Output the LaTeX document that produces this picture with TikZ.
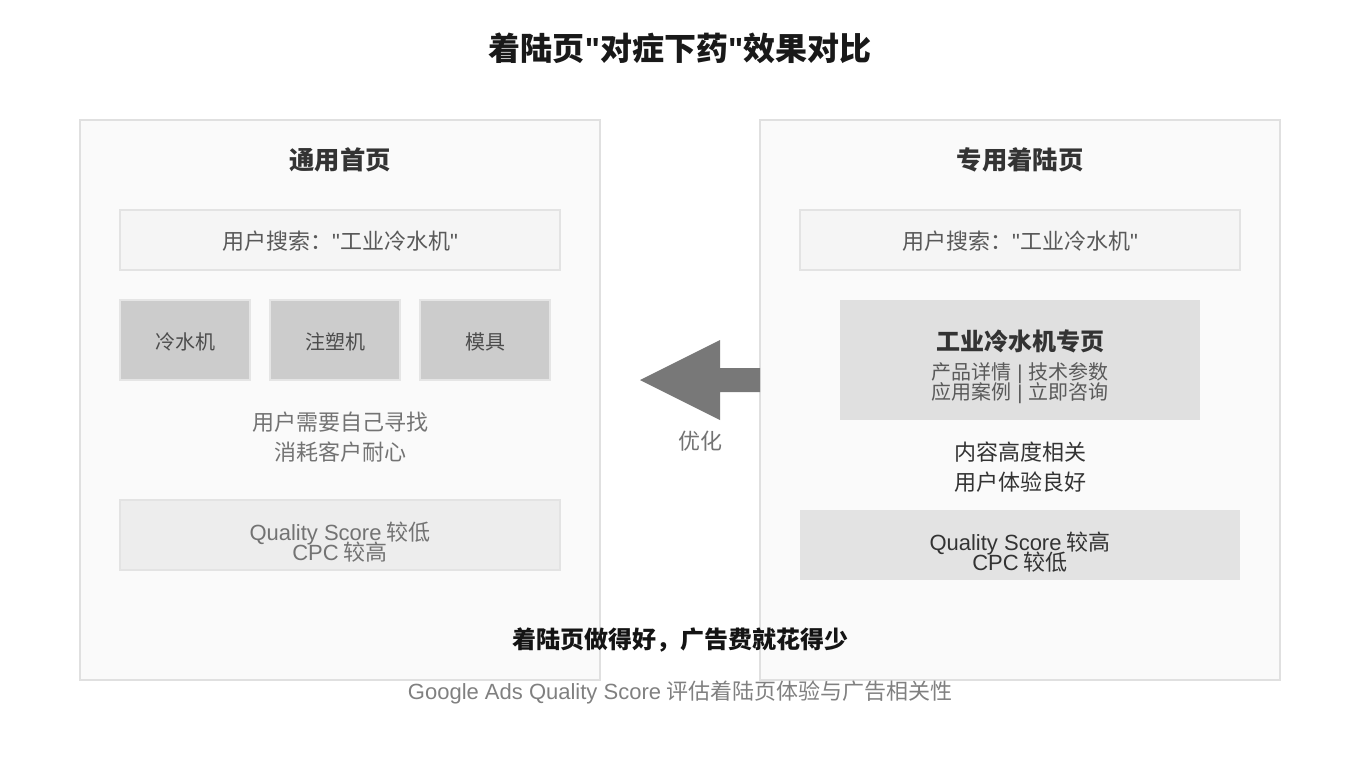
\documentclass[tikz,border=0pt]{standalone}
\usepackage{fontspec}
\setmainfont{Noto Sans CJK SC}[Ligatures=TeXOff]
\newfontfamily\lat{Liberation Sans}[Ligatures=TeXOff]
\newcommand\nols{\setlength{\lineskiplimit}{-1000pt}}
\newcommand\qq{{\lat\symbol{34}}}
\newcommand\sep{\hspace{4.5pt}{\lat|}\hspace{4.5pt}}
\begin{document}
\begin{tikzpicture}[x=0.75pt,y=-0.75pt,
  panel/.style={draw=black!12,line width=1.2pt,fill=black!2},
  searchbox/.style={draw=black!11,line width=1.5pt,fill=black!4},
  catbox/.style={draw=black!10,line width=1.5pt,fill=black!20},
  txt/.style={font=\fontsize{16.5}{22.5}\selectfont\nols,align=center,inner sep=0pt},
  small/.style={font=\fontsize{15}{22.5}\selectfont\nols,align=center,inner sep=0pt},
  tight/.style={font=\fontsize{16.5}{15.5}\selectfont\nols,align=center,inner sep=0pt},
  detail/.style={font=\fontsize{15}{14.5}\selectfont\nols,align=center,inner sep=0pt},
  hd/.style={font=\fontsize{19}{22}\selectfont\bfseries,text=black!80,inner sep=0pt}]
\useasboundingbox (0,0) rectangle (1360,760);
% title
\node[inner sep=0pt,font=\fontsize{24}{28}\selectfont\bfseries,text=black!90] (title) at (680,48) {着陆页{\bfseries\qq}对症下药{\bfseries\qq}效果对比};
% left panel
\path[panel] (80,120) rectangle (600,680);
\node[hd] (lt) at (340,160) {通用首页};
\draw[searchbox] (120,210) rectangle (560,270);
\node[txt,text=black!65] (ls) at (340,241) {用户搜索：\qq 工业冷水机\qq};
\draw[catbox] (120,300) rectangle (250,380);
\draw[catbox] (270,300) rectangle (400,380);
\draw[catbox] (420,300) rectangle (550,380);
\node[small,text=black!70] (c1) at (185,342) {冷水机};
\node[small,text=black!70] (c2) at (335,342) {注塑机};
\node[small,text=black!70] (c3) at (485,342) {模具};
\node[txt,text=black!55] (lnote) at (340,437) {用户需要自己寻找\\消耗客户耐心};
\draw[searchbox,fill=black!7] (120,500) rectangle (560,570);
\node[tight,text=black!55] (lqs) at (340,542) {{\lat Quality Score} 较低\\{\lat CPC} 较高};
% right panel
\path[panel] (760,120) rectangle (1280,680);
\node[hd] (rt) at (1020,160) {专用着陆页};
\draw[searchbox] (800,210) rectangle (1240,270);
\node[txt,text=black!65] (rs) at (1020,241) {用户搜索：\qq 工业冷水机\qq};
\fill[black!12] (840,300) rectangle (1200,420);
\node[hd,font=\fontsize{18}{22}\selectfont\bfseries] (rpt) at (1020,341) {工业冷水机专页};
\node[detail,text=black!65] (rpd) at (1020,383) {产品详情\sep 技术参数\\应用案例\sep 立即咨询};
\node[txt,text=black!80] (rnote) at (1020,467) {内容高度相关\\用户体验良好};
\fill[black!11] (800,510) rectangle (1240,580);
\node[tight,text=black!80] (rqs) at (1020,552) {{\lat Quality Score} 较高\\{\lat CPC} 较低};
% arrow
\fill[black!53] (760,368) -- (720,368) -- (720,340) -- (640,380) -- (720,420) -- (720,392) -- (760,392) -- cycle;
\node[txt,text=black!55] (opt) at (700,441) {优化};
% bottom
\node[inner sep=0pt,font=\fontsize{18}{22}\selectfont\bfseries,text=black!92] (summary) at (680,640) {着陆页做得好，广告费就花得少};
\node[txt,text=black!50] (foot) at (680,692) {{\lat Google Ads Quality Score} 评估着陆页体验与广告相关性};
\end{tikzpicture}
\end{document}
